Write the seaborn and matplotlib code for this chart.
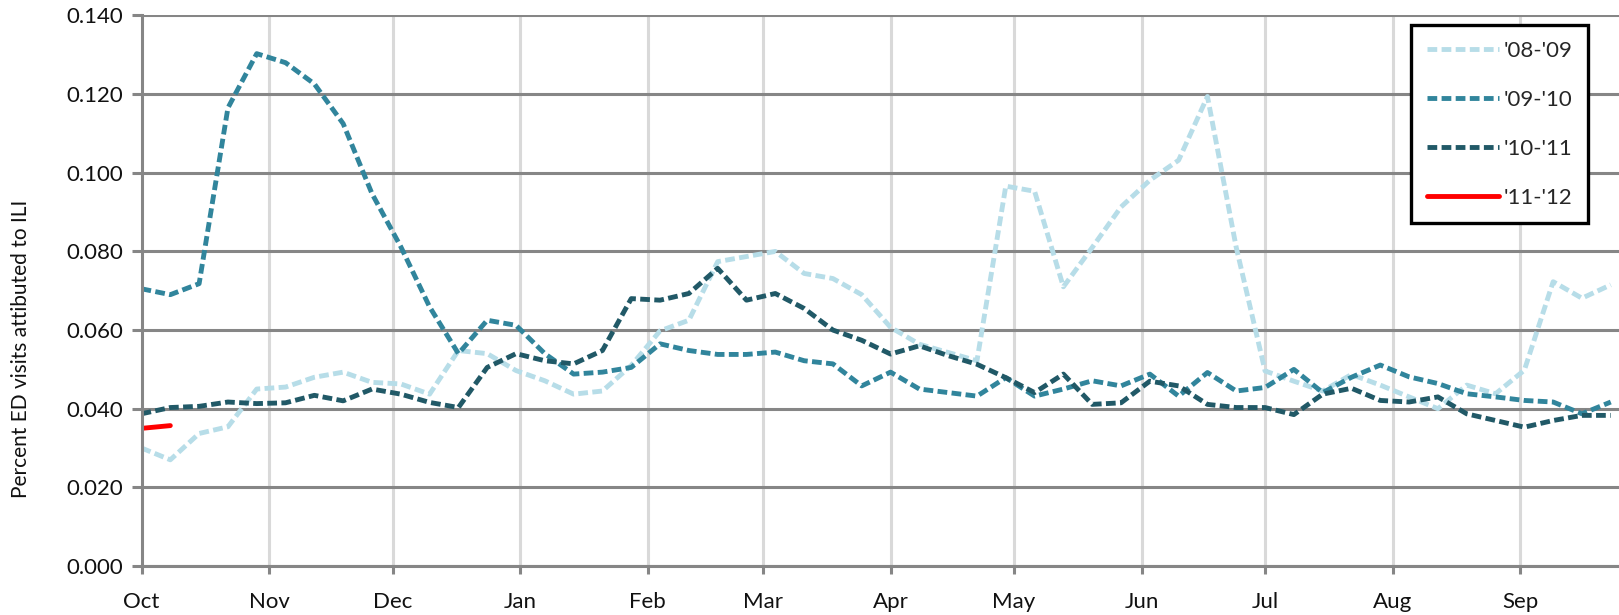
from matplotlib import pyplot as plt
from matplotlib.lines import Line2D
import seaborn as sns
import pandas as pd

# weekly values, week 0 = Oct 1
season_0809 = [0.030, 0.027, 0.0337, 0.0354, 0.045, 0.0455, 0.048, 0.0493, 0.0467, 0.0463,
               0.0437, 0.0548, 0.054, 0.0497, 0.0471, 0.0437, 0.0445, 0.051, 0.0598, 0.0625,
               0.0774, 0.0787, 0.080, 0.0744, 0.0731, 0.069, 0.0607, 0.0564, 0.0543, 0.0522,
               0.0966, 0.0953, 0.071, 0.081, 0.0913, 0.0981, 0.1032, 0.1194, 0.081, 0.0496,
               0.047, 0.0445, 0.0487, 0.046, 0.043, 0.040, 0.046, 0.0438, 0.0498, 0.0723,
               0.0681, 0.0715]
season_0910 = [0.0705, 0.069, 0.0718, 0.1165, 0.1303, 0.128, 0.1226, 0.1125, 0.0947, 0.0812,
               0.0659, 0.054, 0.0625, 0.0612, 0.054, 0.0488, 0.0493, 0.0505, 0.0565, 0.0548,
               0.0538, 0.0538, 0.0544, 0.0522, 0.0514, 0.0458, 0.0493, 0.045, 0.0441, 0.0432,
               0.0479, 0.0432, 0.045, 0.0471, 0.0458, 0.0488, 0.0432, 0.0492, 0.0445, 0.0454,
               0.050, 0.0441, 0.048, 0.0511, 0.0481, 0.0464, 0.0438, 0.043, 0.0421, 0.0417,
               0.0387, 0.0417]
season_1011 = [0.0387, 0.0403, 0.0406, 0.0417, 0.0413, 0.0415, 0.0434, 0.042, 0.045, 0.0437,
               0.0416, 0.0403, 0.0505, 0.054, 0.0522, 0.0514, 0.0548, 0.068, 0.0676, 0.0693,
               0.0757, 0.0676, 0.0693, 0.0655, 0.060, 0.0574, 0.0539, 0.056, 0.0535, 0.0513,
               0.0479, 0.0441, 0.0488, 0.0411, 0.0415, 0.047, 0.0458, 0.0411, 0.0403, 0.0403,
               0.0385, 0.0437, 0.0452, 0.0421, 0.0417, 0.043, 0.0387, 0.037, 0.0353, 0.037,
               0.0383, 0.0383]
season_1112 = [0.035, 0.0357]

seasons = ["'08-'09", "'09-'10", "'10-'11", "'11-'12"]
colors = ['#B7DDE8', '#31859C', '#215967', '#FF0000']
month_days = [0, 31, 61, 92, 123, 151, 182, 212, 243, 273, 304, 335]
month_names = ['Oct', 'Nov', 'Dec', 'Jan', 'Feb', 'Mar', 'Apr', 'May', 'Jun', 'Jul', 'Aug', 'Sep']
y_ticks = [0.0, 0.02, 0.04, 0.06, 0.08, 0.10, 0.12, 0.14]

rows = []
for name, vals in zip(seasons, [season_0809, season_0910, season_1011, season_1112]):
    for i, v in enumerate(vals):
        rows.append({'day': 7 * i, 'value': v, 'season': name})
df = pd.DataFrame(rows)

sns.set_theme(style='white')
plt.rcParams['font.family'] = ['Lato', 'DejaVu Sans']

fig = plt.figure(figsize=(16.19, 6.15), dpi=100)
ax = fig.add_axes([0.0874, 0.0797, 0.9126, 0.8951])

lw = 3.5
dash = (2.0, 0.9)
sns.lineplot(data=df, x='day', y='value', hue='season', style='season',
             hue_order=seasons, style_order=seasons, palette=colors,
             dashes={seasons[0]: dash, seasons[1]: dash, seasons[2]: dash, seasons[3]: ''},
             linewidth=lw, legend=False, ax=ax)

ax.set_xlim(0, 359)
ax.set_ylim(0, 0.14)
ax.set_xticks(month_days)
ax.set_xticklabels(month_names)
ax.set_yticks(y_ticks)
ax.set_yticklabels([f'{t:.3f}' for t in y_ticks])
ax.set_xlabel('')
ax.set_ylabel('Percent ED visits attibuted to ILI', fontsize=15, color='#111111')
ax.yaxis.set_label_coords(-0.0745, 0.395)

ax.set_axisbelow(True)
ax.grid(axis='y', color='#868686', linewidth=2.2)
ax.grid(axis='x', color='#D9D9D9', linewidth=2.2)
ax.get_xgridlines()[0].set_visible(False)

for s in ['top', 'right']:
    ax.spines[s].set_visible(False)
for s in ['left', 'bottom']:
    ax.spines[s].set_color('#868686')
    ax.spines[s].set_linewidth(2.2)

ax.tick_params(axis='both', direction='out', width=2.2, color='#868686',
               labelsize=16, labelcolor='#111111', left=True, bottom=True)
ax.tick_params(axis='x', length=6, pad=13)
ax.tick_params(axis='y', length=7, pad=6)

handles = [Line2D([], [], color=c, lw=lw, dashes=dash) for c in colors[:3]]
handles.append(Line2D([], [], color=colors[3], lw=lw))
leg = ax.legend(handles, seasons, loc='upper right', bbox_to_anchor=(0.979, 0.982),
                fontsize=16, frameon=True, fancybox=False, framealpha=1,
                edgecolor='black', handlelength=3.25, labelspacing=1.3,
                borderpad=0.7, handletextpad=0.2, borderaxespad=0)
leg.get_frame().set_linewidth(2.4)

plt.savefig('out.png', dpi=100)
plt.close('all')
